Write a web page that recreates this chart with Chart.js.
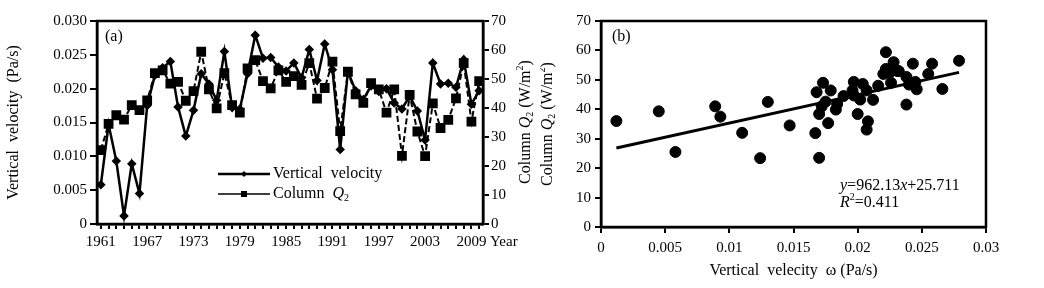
<!DOCTYPE html>
<html>
<head>
<meta charset="utf-8">
<script src="https://cdn.jsdelivr.net/npm/chart.js@4.4.1/dist/chart.umd.min.js"></script>
<style>
  body { margin: 0; background: #fff; width: 1044px; height: 288px; overflow: hidden; position: relative; }
  canvas { position: absolute; top: 0; }
  #chartA { left: 0; }
  #chartB { left: 540px; }
</style>
</head>
<body>
<canvas id="chartA" width="540" height="288"></canvas>
<canvas id="chartB" width="504" height="288"></canvas>
<script>
// years on panel (a)
const years = [
  "1961", "1962", "1963", "1964", "1965", "1966", "1967", "1968", "1969", "1970",
  "1971", "1972", "1973", "1974", "1975", "1976", "1977", "1978", "1979", "1980",
  "1981", "1982", "1983", "1984", "1985", "1986", "1987", "1988", "1989", "1990",
  "1991", "1992", "1993", "1994", "1995", "1996", "1997", "1998", "1999", "2000",
  "2001", "2002", "2003", "2004", "2005", "2006", "2007", "2008", "2009", "2010"
];

// vertical velocity (Pa/s), left axis
const verticalVelocity = [
  0.0058, 0.0147, 0.0093, 0.0012, 0.0089, 0.0045, 0.0175, 0.0220, 0.0231, 0.0240,
  0.0173, 0.0130, 0.0168, 0.0222, 0.0207, 0.0183, 0.0255, 0.0172, 0.0170, 0.0222,
  0.0279, 0.0245, 0.0246, 0.0232, 0.0226, 0.0238, 0.0216, 0.0258, 0.0212, 0.0266,
  0.0228, 0.0110, 0.0225, 0.0197, 0.0184, 0.0204, 0.0196, 0.0200, 0.0179, 0.0170,
  0.0189, 0.0167, 0.0124, 0.0238, 0.0207, 0.0208, 0.0202, 0.0243, 0.0177, 0.0197
];

// column Q2 (W/m2), right axis
const columnQ2 = [
  25.5, 34.5, 37.5, 36.0, 41.0, 39.3, 42.6, 52.0, 53.0, 48.4,
  49.0, 42.5, 45.8, 59.4, 46.4, 39.9, 52.0, 41.0, 38.4, 53.7,
  56.5, 49.3, 46.8, 53.0, 49.0, 51.0, 48.0, 55.5, 43.2, 46.9,
  56.0, 32.0, 52.5, 44.7, 41.8, 48.6, 46.4, 38.4, 46.4, 23.5,
  44.5, 31.9, 23.4, 41.6, 33.1, 35.9, 43.3, 55.5, 35.3, 49.3
];

// regression shown on panel (b)
const fitSlope = 962.13;
const fitIntercept = 25.711;
const fitR2 = 0.411;

const FONT = "'Liberation Serif', 'Times New Roman', serif";
Chart.defaults.font.family = FONT;
Chart.defaults.font.size = 15;
Chart.defaults.color = "#000";

function partFont(style, size) {
  const s = (style === "sub" || style === "sup") ? Math.round(size * 0.65) : size;
  return (style === "i" ? "italic " : "") + s + "px " + FONT;
}

// draws text made of pieces (italic / sub / sup)
function richText(ctx, parts, x, y, size, align) {
  let w = 0;
  parts.forEach(([t, st]) => { ctx.font = partFont(st, size); w += ctx.measureText(t).width; });
  let cx = align === "center" ? x - w / 2 : x;
  ctx.textAlign = "left";
  ctx.textBaseline = "middle";
  parts.forEach(([t, st]) => {
    ctx.font = partFont(st, size);
    const dy = st === "sub" ? size * 0.3 : st === "sup" ? -size * 0.35 : 0;
    ctx.fillText(t, cx, y + dy);
    cx += ctx.measureText(t).width;
  });
}

const q2Title = [["Column ", ""], ["Q", "i"], ["2", "sub"], [" (W/m", ""], ["2", "sup"], [")", ""]];

// frame round the plot area
const framePlugin = {
  id: "frame",
  afterDatasetsDraw(chart) {
    const { ctx, chartArea: a } = chart;
    ctx.save();
    ctx.strokeStyle = "#000";
    ctx.lineWidth = 2.5;
    ctx.strokeRect(a.left, a.top, a.right - a.left, a.bottom - a.top);
    ctx.restore();
  }
};

// legend, right title and labels for panel (a)
const extrasA = {
  id: "extrasA",
  afterDraw(chart) {
    const ctx = chart.ctx;
    ctx.save();
    ctx.fillStyle = "#000";
    ctx.strokeStyle = "#000";

    richText(ctx, [["(a)", ""]], 105, 37, 16, "left");

    // right axis title, reads bottom to top
    ctx.save();
    ctx.translate(526, 122);
    ctx.rotate(-Math.PI / 2);
    richText(ctx, q2Title, 0, 0, 16, "center");
    ctx.restore();

    richText(ctx, [["Year", ""]], 490, 242, 15, "left");

    // legend
    ctx.lineWidth = 2.5;
    ctx.beginPath(); ctx.moveTo(218, 174); ctx.lineTo(270, 174); ctx.stroke();
    ctx.beginPath(); ctx.moveTo(244, 171); ctx.lineTo(247, 174); ctx.lineTo(244, 177); ctx.lineTo(241, 174); ctx.closePath(); ctx.fill();
    richText(ctx, [["Vertical  velocity", ""]], 273, 174, 16, "left");
    ctx.lineWidth = 1.5;
    ctx.beginPath(); ctx.moveTo(218, 194); ctx.lineTo(270, 194); ctx.stroke();
    ctx.fillRect(241, 191, 6, 6);
    richText(ctx, [["Column  ", ""], ["Q", "i"], ["2", "sub"]], 273, 194, 16, "left");
    ctx.restore();
  }
};

// labels for panel (b)
const extrasB = {
  id: "extrasB",
  afterDraw(chart) {
    const ctx = chart.ctx;
    ctx.save();
    ctx.fillStyle = "#000";
    richText(ctx, [["(b)", ""]], 72, 37, 16, "left");

    ctx.save();
    ctx.translate(8, 124);
    ctx.rotate(-Math.PI / 2);
    richText(ctx, q2Title, 0, 0, 16, "center");
    ctx.restore();

    richText(ctx, [["y", "i"], ["=962.13", ""], ["x", "i"], ["+25.711", ""]], 300, 186, 16, "left");
    richText(ctx, [["R", "i"], ["2", "sup"], ["=" + fitR2, ""]], 300, 203, 16, "left");
    ctx.restore();
  }
};

const axisGrid = { drawOnChartArea: false, drawTicks: true, color: "#000", lineWidth: 2 };
const axisBorder = { color: "#000", width: 2.5 };

new Chart(document.getElementById("chartA"), {
  type: "line",
  data: {
    labels: years,
    datasets: [
      {
        label: "Vertical velocity",
        data: verticalVelocity,
        yAxisID: "y",
        borderColor: "#000",
        backgroundColor: "#000",
        borderWidth: 2.5,
        pointStyle: "rectRot",
        pointRadius: 3,
        tension: 0
      },
      {
        label: "Column Q2",
        data: columnQ2,
        yAxisID: "y2",
        borderColor: "#000",
        backgroundColor: "#000",
        borderWidth: 2,
        borderDash: [6, 3],
        pointStyle: "rect",
        pointRadius: 5.5,
        tension: 0
      }
    ]
  },
  options: {
    responsive: false,
    animation: false,
    layout: { padding: { top: 21, left: 0, right: 0, bottom: 0 } },
    plugins: { legend: { display: false }, tooltip: { enabled: false } },
    scales: {
      x: {
        type: "category",
        offset: true,
        grid: { ...axisGrid, tickLength: 5, offset: false },
        border: axisBorder,
        ticks: {
          autoSkip: false,
          maxRotation: 0,
          padding: 4,
          callback: function (v, i) { return i % 6 === 0 ? this.getLabelForValue(v) : ""; }
        },
        afterFit: s => { s.height = 64; }
      },
      y: {
        position: "left",
        min: 0,
        max: 0.03,
        grid: { ...axisGrid, tickLength: 7 },
        border: axisBorder,
        ticks: { stepSize: 0.005, padding: 3, callback: v => v === 0 ? "0" : v.toFixed(3) },
        title: { display: true, text: "Vertical  velocity  (Pa/s)", font: { size: 16 }, padding: { top: 4 } },
        afterFit: s => { s.width = 97; }
      },
      y2: {
        position: "right",
        min: 0,
        max: 70,
        grid: { ...axisGrid, tickLength: 6 },
        border: axisBorder,
        ticks: { stepSize: 10, padding: 2 },
        afterFit: s => { s.width = 57; }
      }
    }
  },
  plugins: [framePlugin, extrasA]
});

const scatterPoints = verticalVelocity.map((v, i) => ({ x: v, y: columnQ2[i] }));
const fitX0 = Math.min(...verticalVelocity);
const fitX1 = Math.max(...verticalVelocity);
const fitLine = [
  { x: fitX0, y: fitSlope * fitX0 + fitIntercept },
  { x: fitX1, y: fitSlope * fitX1 + fitIntercept }
];

new Chart(document.getElementById("chartB"), {
  type: "scatter",
  data: {
    datasets: [
      {
        data: scatterPoints,
        backgroundColor: "#000",
        borderColor: "#000",
        pointRadius: 5.5
      },
      {
        type: "line",
        data: fitLine,
        borderColor: "#000",
        borderWidth: 3,
        pointRadius: 0
      }
    ]
  },
  options: {
    responsive: false,
    animation: false,
    layout: { padding: { top: 21, left: 0, right: 58, bottom: 0 } },
    plugins: { legend: { display: false }, tooltip: { enabled: false } },
    scales: {
      x: {
        type: "linear",
        min: 0,
        max: 0.03,
        grid: { ...axisGrid, tickLength: 6 },
        border: axisBorder,
        ticks: { stepSize: 0.005, padding: 6, callback: v => v === 0 ? "0" : String(parseFloat(v.toFixed(3))) },
        title: { display: true, text: "Vertical  velecity  ω (Pa/s)", font: { size: 16 }, padding: { bottom: 8 } },
        afterFit: s => { s.height = 61; }
      },
      y: {
        min: 0,
        max: 70,
        grid: { ...axisGrid, tickLength: 6 },
        border: axisBorder,
        ticks: { stepSize: 10, padding: 4 },
        afterFit: s => { s.width = 61; }
      }
    }
  },
  plugins: [framePlugin, extrasB]
});
</script>
</body>
</html>
